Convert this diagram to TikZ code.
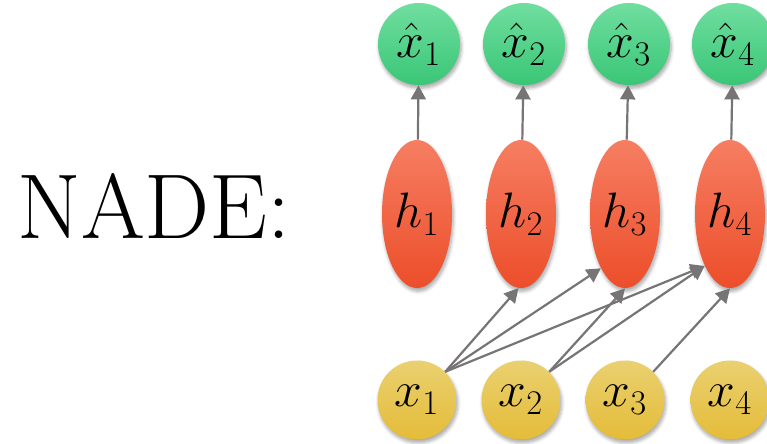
\documentclass[tikz,border=0pt]{standalone}
\usepackage{amsmath}
\usetikzlibrary{arrows.meta,shapes.geometric,shadows.blur}
\definecolor{nadegreentop}{RGB}{112,222,160}
\definecolor{nadegreenbot}{RGB}{58,198,118}
\definecolor{naderedtop}{RGB}{246,126,98}
\definecolor{naderedbot}{RGB}{236,78,42}
\definecolor{nadegoldtop}{RGB}{234,208,112}
\definecolor{nadegoldbot}{RGB}{228,188,56}
\definecolor{nadegray}{RGB}{118,116,116}
\tikzset{
  nadeshadow/.style={blur shadow={shadow xshift=0.6pt,shadow yshift=-1.6pt,shadow opacity=35,shadow blur steps=6}},
  outnode/.style={circle,minimum size=41pt,inner sep=0pt,top color=nadegreentop,bottom color=nadegreenbot,nadeshadow,font=\fontsize{27}{31}\selectfont},
  hidnode/.style={ellipse,minimum width=35pt,minimum height=74pt,inner sep=0pt,top color=naderedtop,bottom color=naderedbot,nadeshadow,font=\fontsize{27}{31}\selectfont},
  innode/.style={circle,minimum size=39.5pt,inner sep=0pt,top color=nadegoldtop,bottom color=nadegoldbot,nadeshadow,font=\fontsize{27}{31}\selectfont},
  conn/.style={-{Triangle[length=7pt,width=7.5pt]},line width=1.1pt,draw=nadegray,fill=nadegray}
}
\begin{document}
\begin{tikzpicture}[x=0.5pt,y=-0.5pt]
  \useasboundingbox (0,0) rectangle (767,444);
  \node[anchor=base,font=\fontsize{46}{52}\selectfont] (title) at (154,239) {NADE:};
  \foreach \i/\xo/\xh in {1/419/417,2/524/521,3/629/625,4/733/730}{%
    \node[outnode] (xh\i) at (\xo,44) {$\hat{x}_\i$};
    \node[hidnode] (h\i) at (\xh,214) {$h_\i$};
    \node[innode] (x\i) at (\xh,400) {$x_\i$};
    \draw[conn] (h\i) -- (xh\i);
  }
  \draw[conn] (x1.45) -- (h2.268);
  \draw[conn] (x1.45) -- (h3.246);
  \draw[conn] (x1.45) -- (h4.244);
  \draw[conn] (x2.45) -- (h3.south);
  \draw[conn] (x2.45) -- (h4.244);
  \draw[conn] (x3.45) -- (h4.south);
\end{tikzpicture}
\end{document}
